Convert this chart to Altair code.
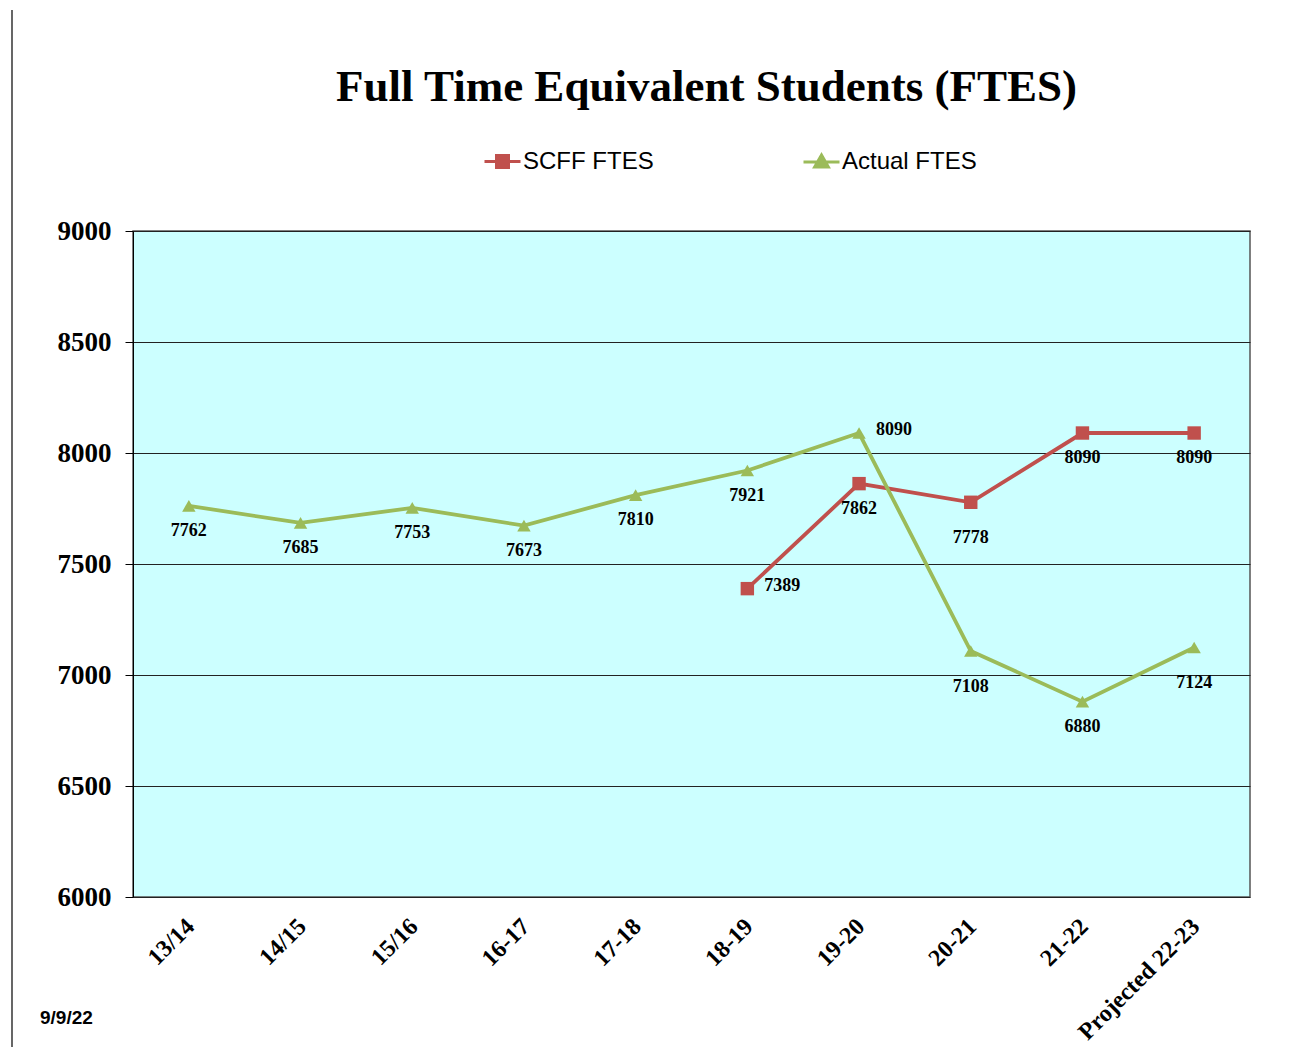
import altair as alt
import pandas as pd

categories = ["13/14", "14/15", "15/16", "16-17", "17-18", "18-19", "19-20",
              "20-21", "21-22", "Projected 22-23"]
scff_ftes = [None, None, None, None, None, 7389, 7862, 7778, 8090, 8090]
actual_ftes = [7762, 7685, 7753, 7673, 7810, 7921, 8090, 7108, 6880, 7124]
scff_label_side = [None] * 5 + ["right", "below", "below_far", "below", "below"]
actual_label_side = ["below"] * 6 + ["right", "below_far", "below", "below_far"]
series_names = ["SCFF FTES", "Actual FTES"]
series_colors = ["#C0504D", "#9BBB59"]
y_ticks = [6000, 6500, 7000, 7500, 8000, 8500, 9000]
title_text = "Full Time Equivalent Students (FTES)"
date_note = "9/9/22"

rows = []
for name, vals, sides in [(series_names[0], scff_ftes, scff_label_side),
                          (series_names[1], actual_ftes, actual_label_side)]:
    for c, v, s in zip(categories, vals, sides):
        if v is not None:
            rows.append({"category": c, "value": v, "series": name, "side": s})
df = pd.DataFrame(rows)

SERIF = "Liberation Serif"
SANS = "Liberation Sans"

x_enc = alt.X("category:N", sort=categories, title=None,
              axis=alt.Axis(labelAngle=-45, labelFont=SERIF, labelFontSize=24,
                            labelFontWeight="bold", labelColor="black",
                            ticks=False, domain=False, labelPadding=17,
                            labelOffset=-7))
y_enc = alt.Y("value:Q", title=None,
              scale=alt.Scale(domain=[6000, 9000], nice=False, zero=False),
              axis=alt.Axis(values=y_ticks, format="d", labelFont=SERIF,
                            labelFontSize=27, labelFontWeight="bold",
                            labelColor="black", tickSize=8, tickColor="black",
                            domainColor="black", labelPadding=14,
                            gridColor="#222222", gridWidth=1))

# legend symbols: a short line plus a marker built from nested outlines
square_path = ("M-1,0H1"
               "M-0.333,-0.333H0.333V0.333H-0.333Z"
               "M-0.25,-0.25H0.25V0.25H-0.25Z"
               "M-0.167,-0.167H0.167V0.167H-0.167Z"
               "M-0.083,-0.083H0.083V0.083H-0.083Z")
tri_path = ("M-1,0.03H1"
            "M0,-0.36L0.38,0.3H-0.38Z"
            "M0,-0.24L0.25,0.2H-0.25Z"
            "M0,-0.12L0.13,0.1H-0.13Z")

color_scale = alt.Scale(domain=series_names, range=series_colors)

base = alt.Chart(df)

lines = base.mark_line(strokeWidth=3.8).encode(
    x=x_enc, y=y_enc,
    color=alt.Color("series:N", scale=color_scale, legend=None),
    detail="series:N",
)

points = base.mark_point(filled=True, opacity=1, size=180).encode(
    x=x_enc, y=y_enc,
    color=alt.Color("series:N", scale=color_scale, legend=None),
    shape=alt.Shape("series:N", scale=alt.Scale(domain=series_names,
                                                range=["square", "triangle-up"]),
                    legend=None),
)


def legend_for(i, x):
    return alt.Legend(orient="none", legendX=x, legendY=-89, title=None,
                      labelFont=SANS, labelFontSize=24, labelColor="black",
                      labelOffset=1, symbolSize=1296,
                      symbolType=[square_path, tri_path][i],
                      symbolFillColor=series_colors[i],
                      symbolStrokeColor=series_colors[i],
                      symbolStrokeWidth=3, symbolOpacity=1)


legend_a = base.transform_filter(
    (alt.datum.value < 0) & (alt.datum.series == series_names[0])
).mark_point(filled=False, color=series_colors[0], strokeWidth=3).encode(
    x=x_enc, y=y_enc,
    opacity=alt.Opacity("series:N", scale=alt.Scale(domain=[series_names[0]], range=[1]),
                        legend=legend_for(0, 350)),
)

legend_b = base.transform_filter(
    (alt.datum.value < 0) & (alt.datum.series == series_names[1])
).mark_point(filled=False, color=series_colors[1], strokeWidth=3, size=1296).encode(
    x=x_enc, y=y_enc,
    shape=alt.Shape("series:N", scale=alt.Scale(domain=[series_names[1]], range=[tri_path]),
                    legend=legend_for(1, 669)),
)

label_style = dict(font=SERIF, fontSize=18, fontWeight="bold", color="black",
                   baseline="middle")

labels_below = base.transform_filter(alt.datum.side == "below").mark_text(
    align="center", dy=25, **label_style
).encode(x=x_enc, y=y_enc, text=alt.Text("value:Q", format="d"))

labels_far = base.transform_filter(alt.datum.side == "below_far").mark_text(
    align="center", dy=36, **label_style
).encode(x=x_enc, y=y_enc, text=alt.Text("value:Q", format="d"))

labels_right = base.transform_filter(alt.datum.side == "right").mark_text(
    align="left", dx=17, dy=-3, **label_style
).encode(x=x_enc, y=y_enc, text=alt.Text("value:Q", format="d"))

note = alt.Chart(pd.DataFrame({"t": [date_note]})).mark_text(
    font=SANS, fontSize=19, fontWeight="bold", color="black",
    align="left", baseline="middle", clip=False
).encode(text="t:N", x=alt.value(-93), y=alt.value(787))

edge = alt.Chart(pd.DataFrame({"a": [0]})).mark_rule(
    color="black", strokeWidth=1.2, clip=False
).encode(x=alt.value(-121), y=alt.value(-221), y2=alt.value(820))

chart = alt.layer(lines, points, legend_a, legend_b, labels_below, labels_far,
                  labels_right, note, edge).resolve_scale(
    shape="independent"
).properties(
    width=1117, height=666,
    background="white",
    title=alt.TitleParams(title_text, font=SERIF, fontSize=45, fontWeight="bold",
                          color="black", anchor="middle", frame="group",
                          baseline="alphabetic", offset=0, dx=15, dy=137),
    autosize=alt.AutoSizeParams(type="none"),
    padding={"left": 125, "top": 223, "right": 38, "bottom": 150},
).configure_view(
    fill="#CCFFFF", stroke="#555555", strokeWidth=1.5
)

chart.save("out.html", embed_options={"renderer": "svg", "actions": False})
